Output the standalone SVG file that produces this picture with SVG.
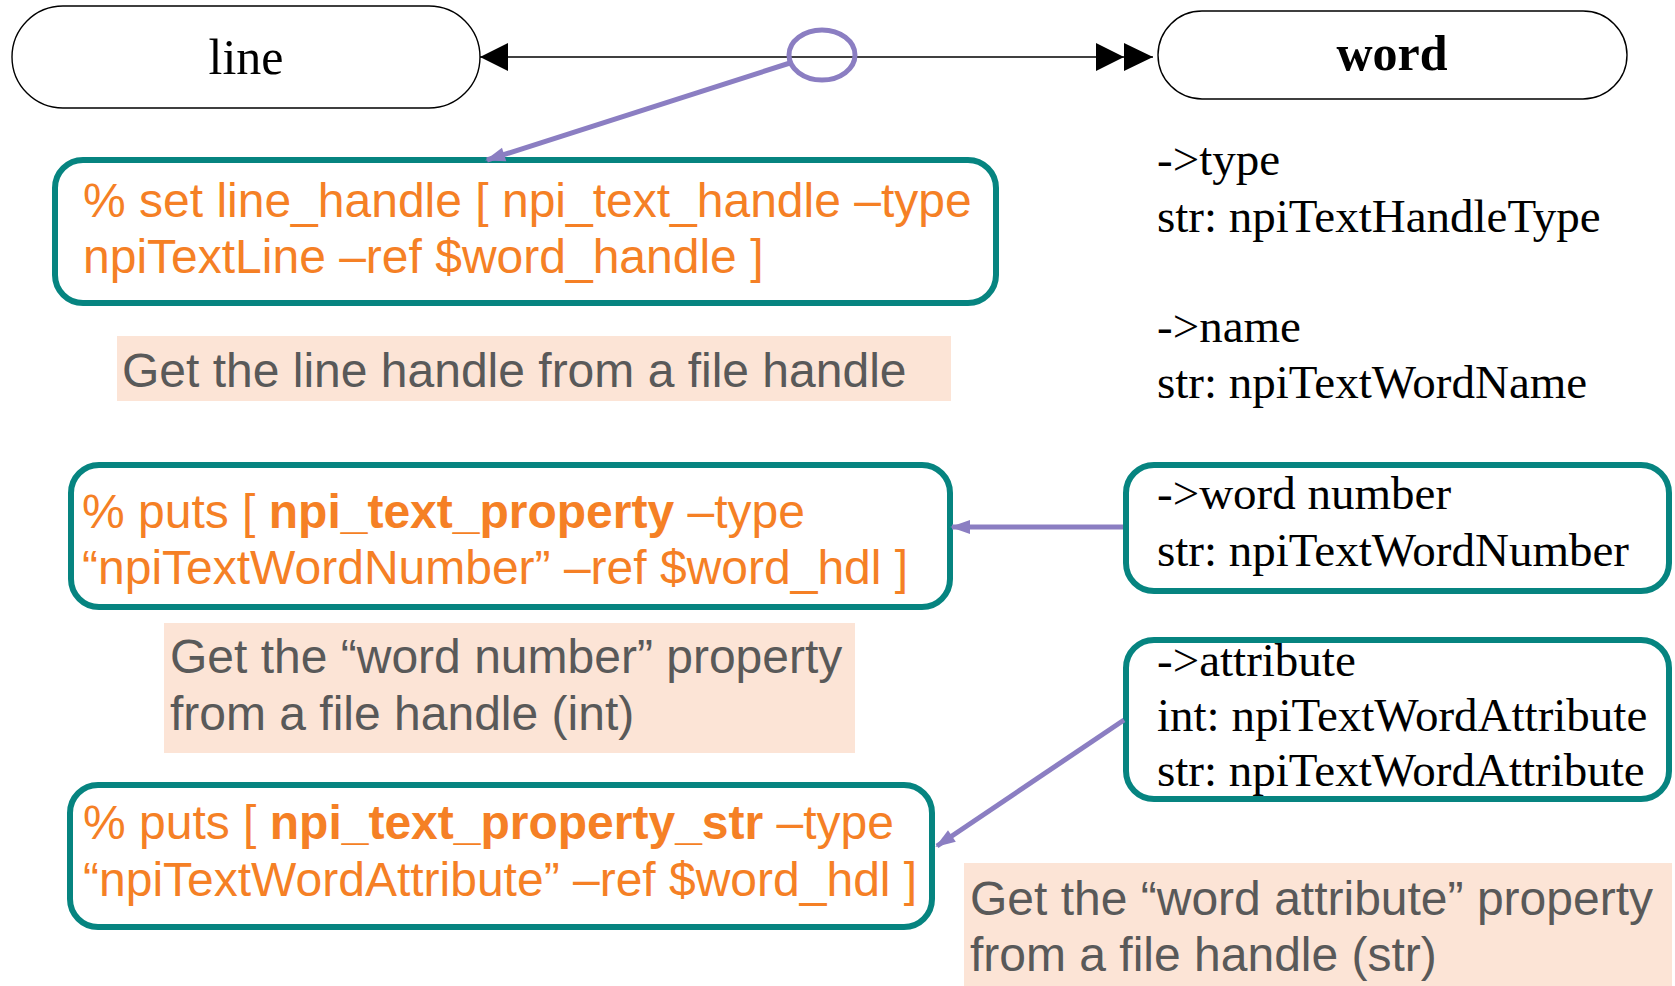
<svg xmlns="http://www.w3.org/2000/svg" width="1675" height="986" viewBox="0 0 1675 986">
  <style>
    .pill { fill: #ffffff; stroke: #000000; stroke-width: 1.4; }
    .box { fill: #ffffff; stroke: #068480; stroke-width: 6; }
    .note { fill: #fce4d6; stroke: none; }
    .serif { font-family: "Liberation Serif", "Times New Roman", serif; fill: #000000; }
    .title { font-size: 50px; }
    .prop { font-size: 47px; }
    .code { font-family: "Liberation Sans", Arial, sans-serif; font-size: 48px; fill: #f58025; }
    .code .b { font-weight: bold; }
    .desc { font-family: "Liberation Sans", Arial, sans-serif; font-size: 48px; fill: #595959; }
    .rel { stroke: #000000; stroke-width: 1.4; fill: none; }
    .link { stroke: #8b7ec2; stroke-width: 5; fill: none; }
  </style>
  <defs>
    <marker id="tri" markerUnits="userSpaceOnUse" markerWidth="30" markerHeight="30" refX="28" refY="14" orient="auto-start-reverse" overflow="visible">
      <path d="M0,0 L28,14 L0,28 Z" fill="#000000"/>
    </marker>
    <marker id="tri2" markerUnits="userSpaceOnUse" markerWidth="60" markerHeight="30" refX="57" refY="14" orient="auto" overflow="visible">
      <path d="M0,0 L28,14 L0,28 Z M28,0 L57,14 L28,28 Z" fill="#000000"/>
    </marker>
    <marker id="pa" markerUnits="userSpaceOnUse" markerWidth="22" markerHeight="16" refX="18" refY="7" orient="auto" overflow="visible">
      <path d="M0,0 L20,7 L0,14 Z" fill="#8b7ec2"/>
    </marker>
  </defs>

  <!-- handle nodes -->
  <g id="node-line">
    <rect class="pill" x="12" y="6" width="468" height="102" rx="51" ry="51"/>
    <text class="serif title" x="246" y="74" text-anchor="middle">line</text>
  </g>
  <g id="node-word">
    <rect class="pill" x="1158" y="11" width="469" height="88" rx="44" ry="44"/>
    <text class="serif title" x="1392" y="70" text-anchor="middle" font-weight="bold">word</text>
  </g>

  <!-- plain word properties -->
  <g id="prop-type">
    <text class="serif prop" x="1157" y="175">-&gt;type</text>
    <text class="serif prop" x="1157" y="232">str: npiTextHandleType</text>
  </g>
  <g id="prop-name">
    <text class="serif prop" x="1157" y="342">-&gt;name</text>
    <text class="serif prop" x="1157" y="398">str: npiTextWordName</text>
  </g>

  <!-- boxed word properties -->
  <g id="prop-number">
    <rect class="box" x="1126" y="465" width="543" height="126" rx="28" ry="28"/>
    <text class="serif prop" x="1157" y="509">-&gt;word number</text>
    <text class="serif prop" x="1157" y="566">str: npiTextWordNumber</text>
  </g>
  <g id="prop-attribute">
    <rect class="box" x="1126" y="640" width="543" height="159" rx="28" ry="28"/>
    <text class="serif prop" x="1157" y="676">-&gt;attribute</text>
    <text class="serif prop" x="1157" y="731">int: npiTextWordAttribute</text>
    <text class="serif prop" x="1157" y="786">str: npiTextWordAttribute</text>
  </g>

  <!-- command boxes -->
  <g id="cmd-line-handle">
    <rect class="box" x="55" y="160" width="941" height="143" rx="28" ry="28"/>
    <text class="code" x="83" y="217">% set line_handle [ npi_text_handle –type</text>
    <text class="code" x="83" y="273">npiTextLine –ref $word_handle ]</text>
  </g>
  <g id="cmd-word-number">
    <rect class="box" x="71" y="465" width="879" height="142" rx="28" ry="28"/>
    <text class="code" x="82" y="528">% puts [ <tspan class="b">npi_text_property</tspan> –type</text>
    <text class="code" x="82" y="584">“npiTextWordNumber” –ref $word_hdl ]</text>
  </g>
  <g id="cmd-word-attribute">
    <rect class="box" x="70" y="785" width="862" height="142" rx="28" ry="28"/>
    <text class="code" x="83" y="839">% puts [ <tspan class="b">npi_text_property_str</tspan> –type</text>
    <text class="code" x="83" y="896">“npiTextWordAttribute” –ref $word_hdl ]</text>
  </g>

  <!-- explanations -->
  <g id="note-line-handle">
    <rect class="note" x="117" y="336" width="834" height="65"/>
    <text class="desc" x="122" y="387">Get the line handle from a file handle</text>
  </g>
  <g id="note-word-number">
    <rect class="note" x="164" y="623" width="691" height="130"/>
    <text class="desc" x="170" y="673">Get the “word number” property</text>
    <text class="desc" x="170" y="730">from a file handle (int)</text>
  </g>
  <g id="note-word-attribute">
    <rect class="note" x="964" y="863" width="708" height="123"/>
    <text class="desc" x="970" y="915">Get the “word attribute” property</text>
    <text class="desc" x="970" y="971">from a file handle (str)</text>
  </g>

  <!-- connectors -->
  <g id="connectors">
    <line class="rel" x1="480" y1="57" x2="1153" y2="57" marker-start="url(#tri)" marker-end="url(#tri2)"/>
    <ellipse class="link" cx="822" cy="55" rx="33" ry="25"/>
    <line class="link" x1="790" y1="63" x2="487" y2="160" marker-end="url(#pa)"/>
    <line class="link" x1="1123" y1="527" x2="952" y2="527" marker-end="url(#pa)"/>
    <line class="link" x1="1124" y1="720" x2="937" y2="846" marker-end="url(#pa)"/>
  </g>
</svg>
